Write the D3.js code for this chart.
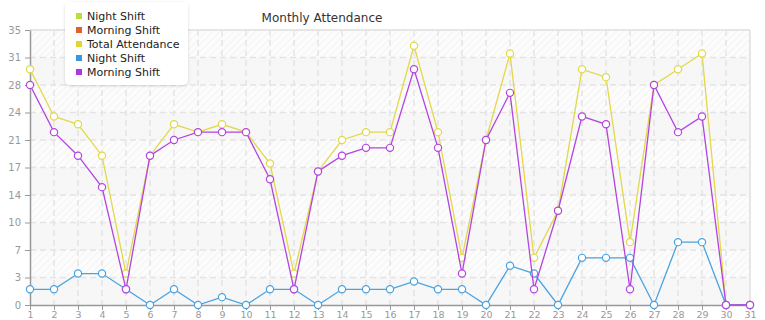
<!DOCTYPE html>
<html>
<head>
<meta charset="utf-8">
<script src="https://cdn.jsdelivr.net/npm/d3@7"></script>
<style>
  body { margin: 0; background: #fff; }
  svg { display: block; font-family: "DejaVu Sans", Verdana, sans-serif; }
</style>
</head>
<body>
<div id="chart"></div>
<script>
// data
var days = d3.range(1, 32);
var nightShift = [2, 2, 4, 4, 2, 0, 2, 0, 1, 0, 2, 2, 0, 2, 2, 2, 3, 2, 2, 0, 5, 4, 0, 6, 6, 6, 0, 8, 8, 0, 0];
var morningShift = [28, 22, 19, 15, 2, 19, 21, 22, 22, 22, 16, 2, 17, 19, 20, 20, 30, 20, 4, 21, 27, 2, 12, 24, 23, 2, 28, 22, 24, 0, 0];
var totalAttendance = [30, 24, 23, 19, 4, 19, 23, 22, 23, 22, 18, 4, 17, 21, 22, 22, 33, 22, 6, 21, 32, 6, 12, 30, 29, 8, 28, 30, 32, 0, 0];
var yTicks = [0, 3.5, 7, 10.5, 14, 17.5, 21, 24.5, 28, 31.5, 35];
var legendNames = ["Night Shift", "Morning Shift", "Total Attendance", "Night Shift", "Morning Shift"];
var legendColors = ["#b7df3b", "#e0622e", "#e2d532", "#3a97df", "#b236df"];

var svgWidth = 765;
var svgHeight = 320;
var margin = { top: 30, bottom: 15, left: 30, right: 15 };
var chartWidth = svgWidth - margin.left - margin.right;
var chartHeight = svgHeight - margin.top - margin.bottom;

var svg = d3.select("#chart")
    .append("svg")
    .attr("width", svgWidth)
    .attr("height", svgHeight);

var defs = svg.append("defs");
var hatch = defs.append("pattern")
    .attr("id", "hatch")
    .attr("width", 5)
    .attr("height", 5)
    .attr("patternUnits", "userSpaceOnUse")
    .attr("patternTransform", "rotate(45)");
hatch.append("rect").attr("width", 5).attr("height", 5).attr("fill", "#fcfcfc");
hatch.append("line")
    .attr("x1", 0).attr("y1", 0).attr("x2", 0).attr("y2", 5)
    .attr("stroke", "#f0f0f0").attr("stroke-width", 1.5);

var shadow = defs.append("filter").attr("id", "shadow")
    .attr("x", "-20%").attr("y", "-20%").attr("width", "140%").attr("height", "140%");
shadow.append("feDropShadow")
    .attr("dx", 0).attr("dy", 1).attr("stdDeviation", 1.5)
    .attr("flood-color", "#000").attr("flood-opacity", 0.15);

var chartGroup = svg.append("g")
    .attr("transform", `translate(${margin.left}, ${margin.top})`);

var xScale = d3.scaleLinear().domain([1, 31]).range([0, chartWidth]);
var yScale = d3.scaleLinear().domain([0, 35]).range([chartHeight, 0]);

// background
chartGroup.append("rect")
    .attr("width", chartWidth)
    .attr("height", chartHeight)
    .attr("fill", "url(#hatch)");

// alternating bands
chartGroup.selectAll(".band")
    .data(yTicks.slice(0, -1).filter((d, i) => i % 2 === 0))
    .enter()
    .append("rect")
    .attr("x", 0)
    .attr("width", chartWidth)
    .attr("y", d => yScale(d + 3.5))
    .attr("height", d => yScale(d) - yScale(d + 3.5))
    .attr("fill", "#f6f6f6")
    .attr("opacity", 0.85);

// grid
chartGroup.selectAll(".hgrid")
    .data(yTicks.slice(1))
    .enter()
    .append("line")
    .attr("x1", 0).attr("x2", chartWidth)
    .attr("y1", d => yScale(d)).attr("y2", d => yScale(d))
    .attr("stroke", d => d === 35 ? "#e6e6e6" : "#e4e4e4")
    .attr("stroke-width", d => d === 35 ? 2 : 1.5)
    .attr("stroke-dasharray", d => d === 35 ? null : "6,4");

chartGroup.selectAll(".vgrid")
    .data(days.slice(1))
    .enter()
    .append("line")
    .attr("x1", d => xScale(d)).attr("x2", d => xScale(d))
    .attr("y1", 0).attr("y2", chartHeight)
    .attr("stroke", d => d === 31 ? "#e6e6e6" : "#e4e4e4")
    .attr("stroke-width", d => d === 31 ? 2 : 1.5)
    .attr("stroke-dasharray", d => d === 31 ? null : "6,4");

// axes
var bottomAxis = d3.axisBottom(xScale).tickValues(days).tickFormat(d3.format("d"))
    .tickSizeInner(5).tickSizeOuter(0).tickPadding(1);
var leftAxis = d3.axisLeft(yScale).tickValues(yTicks).tickFormat(d => Math.floor(d))
    .tickSizeInner(5).tickSizeOuter(0).tickPadding(4);

var xAxis = chartGroup.append("g")
    .attr("transform", `translate(0, ${chartHeight})`)
    .call(bottomAxis);
var yAxis = chartGroup.append("g")
    .call(leftAxis);

[xAxis, yAxis].forEach(ax => {
    ax.select(".domain").attr("stroke", "#999").attr("stroke-width", 1.5);
    ax.selectAll(".tick line").attr("stroke", "#999");
    ax.selectAll(".tick text")
        .attr("fill", "#999")
        .style("font-family", "DejaVu Sans, Verdana, sans-serif")
        .style("font-size", "10px");
});
xAxis.selectAll(".tick text").style("font-size", "9.5px");

// series
var series = [
    { values: totalAttendance, color: "#e2d84a" },
    { values: nightShift, color: "#4aa2e0" },
    { values: morningShift, color: "#b444e0" }
];

var line = d3.line()
    .x((d, i) => xScale(days[i]))
    .y(d => yScale(d));

series.forEach(s => {
    chartGroup.append("path")
        .datum(s.values)
        .attr("fill", "none")
        .attr("stroke", s.color)
        .attr("stroke-width", 1.3)
        .attr("d", line);
    chartGroup.selectAll(null)
        .data(s.values)
        .enter()
        .append("circle")
        .attr("cx", (d, i) => xScale(days[i]))
        .attr("cy", d => yScale(d))
        .attr("r", 3.6)
        .attr("fill", "#fff")
        .attr("stroke", s.color)
        .attr("stroke-width", 1.2);
});

// title
svg.append("text")
    .attr("x", 322)
    .attr("y", 22)
    .attr("text-anchor", "middle")
    .attr("fill", "#333")
    .style("font-size", "12px")
    .text("Monthly Attendance");

// legend
var legendGroup = svg.append("g");
legendGroup.append("rect")
    .attr("x", 65)
    .attr("y", 2)
    .attr("width", 123)
    .attr("height", 83)
    .attr("rx", 5)
    .attr("fill", "#fff")
    .attr("filter", "url(#shadow)");

var legendItems = legendGroup.selectAll(".item")
    .data(legendNames)
    .enter()
    .append("g")
    .attr("transform", (d, i) => `translate(76, ${17 + i * 14})`);
legendItems.append("rect")
    .attr("x", 0).attr("y", -4)
    .attr("width", 6).attr("height", 6)
    .attr("fill", (d, i) => legendColors[i]);
legendItems.append("text")
    .attr("x", 11)
    .attr("y", 3)
    .attr("fill", "#222")
    .style("font-size", "11px")
    .text(d => d);
</script>
</body>
</html>
